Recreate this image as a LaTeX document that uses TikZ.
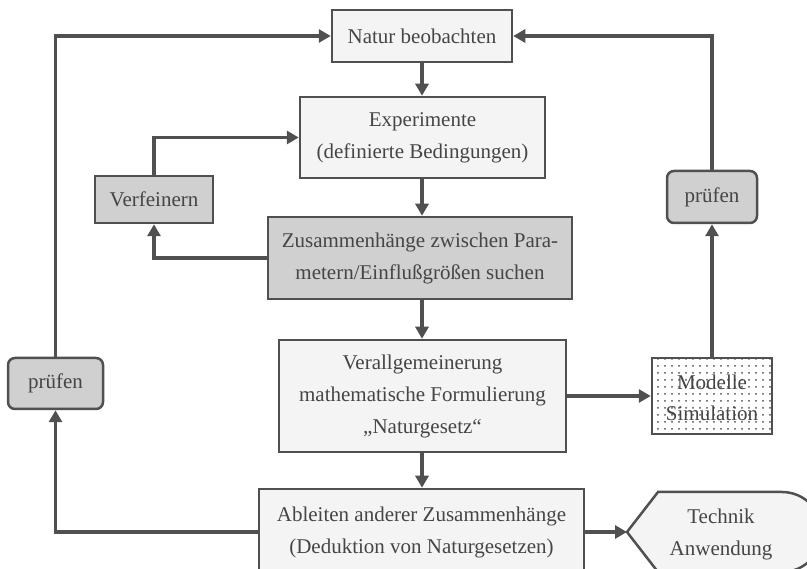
\documentclass[tikz,border=0pt]{standalone}
\usepackage{fontspec}
\setmainfont{Liberation Serif}
\usetikzlibrary{arrows.meta,patterns.meta}
\definecolor{edge}{HTML}{505050}
\definecolor{txt}{HTML}{454545}
\definecolor{lightbox}{HTML}{F4F4F4}
\definecolor{graybox}{HTML}{D0D0D0}
\begin{document}
\begin{tikzpicture}[x=1pt,y=-1pt,
  font=\fontsize{21}{32}\selectfont,
  box/.style={draw=edge,line width=2.5pt,fill=lightbox,text=txt,align=center,inner sep=0pt},
  gbox/.style={box,fill=graybox},
  rbox/.style={gbox,rounded corners=7pt},
  conn/.style={draw=edge,line width=3.5pt,-{Triangle[length=12pt,width=13pt]}}]
\clip (0,0) rectangle (807,569);
\node[box,minimum width=180pt,minimum height=52pt] (natur) at (422,36) {Natur beobachten};
\node[box,minimum width=245pt,minimum height=81pt] (exp) at (422.5,137.5) {Experimente\\(definierte Bedingungen)};
\node[gbox,minimum width=118pt,minimum height=47pt] (verf) at (154,199.5) {Verfeinern};
\node[gbox,minimum width=304pt,minimum height=82pt] (zus) at (420,258) {Zusammenhänge zwischen Para-\\metern/Einflußgrößen suchen};
\node[box,minimum width=287pt,minimum height=112pt] (verall) at (422.5,396) {Verallgemeinerung\\mathematische Formulierung\\„Naturgesetz“};
\node[box,fill=white,preaction={fill=white},pattern={Dots[distance=7pt,radius=1pt]},pattern color=edge,minimum width=120pt,minimum height=76pt] (mod) at (712,396) {};
\node[text=txt,align=center,font=\fontsize{21}{31}\selectfont] (modtxt) at (712,398) {Modelle\\Simulation};
\node[rbox,minimum width=90pt,minimum height=52pt] (pr) at (712,197) {prüfen};
\node[rbox,minimum width=95pt,minimum height=51pt] (pl) at (55.5,383.5) {prüfen};
\node[box,minimum width=325pt,minimum height=86pt] (abl) at (421.5,532) {Ableiten anderer Zusammenhänge\\(Deduktion von Naturgesetzen)};
\coordinate (tech) at (627,532);
\draw[draw=edge,line width=2.5pt,fill=lightbox] (tech) -- (658,492) -- (782,492) arc[start angle=-90,end angle=90,radius=40] -- (658,572) -- cycle;
\node[text=txt,align=center] (techtxt) at (721,534) {Technik\\Anwendung};
\draw[conn] (natur.south) -- (natur.south |- exp.north);
\draw[conn] (natur.south |- exp.south) -- (natur.south |- zus.north);
\draw[conn] (natur.south |- zus.south) -- (natur.south |- verall.north);
\draw[conn] (natur.south |- verall.south) -- (natur.south |- abl.north);
\draw[conn] (zus.west) -| (verf.south);
\draw[conn] (verf.north) |- (exp.west);
\draw[conn] (verall.east) -- (mod.west);
\draw[conn] (mod.north) -- (pr.south);
\draw[conn] (pr.north) |- (natur.east);
\draw[conn] (abl.west) -| (pl.south);
\draw[conn] (pl.north) |- (natur.west);
\draw[conn] (abl.east) -- (tech);
\end{tikzpicture}
\end{document}
